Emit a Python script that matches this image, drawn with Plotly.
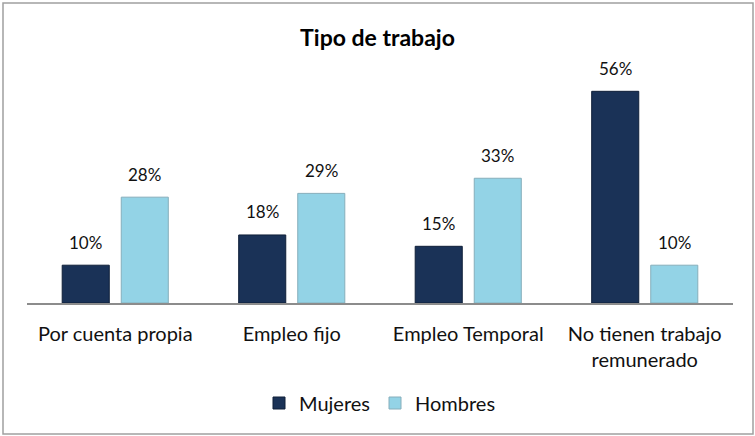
import plotly.graph_objects as go

categories = ["Por cuenta propia", "Empleo fijo", "Empleo Temporal", "No tienen trabajo<br>remunerado"]
mujeres = [0.10, 0.18, 0.15, 0.56]
hombres = [0.28, 0.29, 0.33, 0.10]
series_names = ["Mujeres", "Hombres"]
title_text = "Tipo de trabajo"

FONT = "Lato, 'Open Sans', sans-serif"
W, H = 755, 436
ML, MR, MT, MB = 27, 22, 60, 133
plot_w = W - ML - MR
plot_h = H - MT - MB

fig = go.Figure()
fig.add_trace(go.Bar(
    x=categories, y=mujeres, name=series_names[0],
    marker=dict(color="#1a3257", line=dict(color="#0f1f38", width=1)),
))
fig.add_trace(go.Bar(
    x=categories, y=hombres, name=series_names[1],
    marker=dict(color="#93d3e6", line=dict(color="#86aebb", width=1)),
))

# data labels
shift = 29.5
for vals, xs in ((mujeres, -shift), (hombres, shift)):
    for c, v in zip(categories, vals):
        fig.add_annotation(x=c, y=v, text=f"{round(v*100)}%", showarrow=False,
                           xshift=xs, yshift=23, font=dict(family=FONT, size=17, color="#111111"))

# chart border
x0 = (3 - ML) / plot_w
x1 = (753 - ML) / plot_w
y0 = (H - MB - 434) / plot_h
y1 = (H - MB - 3) / plot_h
fig.add_shape(type="rect", xref="paper", yref="paper", x0=x0, x1=x1, y0=y0, y1=y1,
              line=dict(color="#a0a0a0", width=1.5), layer="above")

fig.update_layout(
    width=W, height=H,
    margin=dict(l=ML, r=MR, t=MT, b=MB),
    paper_bgcolor="white", plot_bgcolor="white",
    barmode="group", bargap=0.331, bargroupgap=0.203,
    title=dict(text=f"<b>{title_text}</b>", x=0.5, xanchor="center", y=1 - 38 / H, yanchor="middle",
               font=dict(family=FONT, size=23, color="#000000")),
    font=dict(family=FONT, size=20, color="#111111"),
    xaxis=dict(showline=True, linecolor="#8c8c8c", linewidth=1.5, ticks="", showgrid=False,
               ticklabelstandoff=12,
               tickfont=dict(family=FONT, size=20, color="#111111")),
    yaxis=dict(range=[0, plot_h / 378.0], visible=False, showgrid=False),
    legend=dict(orientation="h", x=0.5, xanchor="center", y=(H - MB - 403) / plot_h, yanchor="middle",
                font=dict(family=FONT, size=20, color="#111111"), itemwidth=30, traceorder="normal"),
    showlegend=True,
)

fig.write_html("out.html", config={"displayModeBar": False})

with open("out.html", "r", encoding="utf-8") as f:
    html = f.read()
html = html.replace("<body>", "<body style=\"margin:0;padding:0\">", 1)
with open("out.html", "w", encoding="utf-8") as f:
    f.write(html)
